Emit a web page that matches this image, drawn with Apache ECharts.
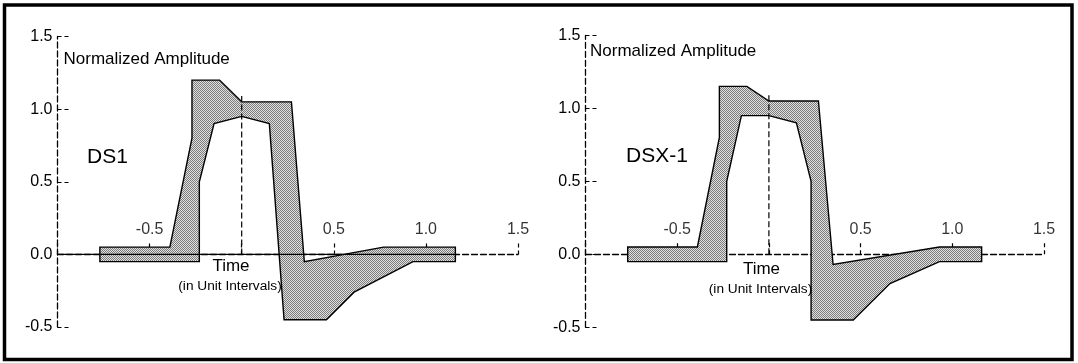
<!DOCTYPE html>
<html><head><meta charset="utf-8">
<script src="https://cdn.jsdelivr.net/npm/echarts@6/dist/echarts.min.js"></script>
<style>html,body{margin:0;padding:0;background:#fff}#c{width:1078px;height:363px}</style>
</head><body><div id="c"></div>
<script>
// ---- data ----
const xMin = -1.0, xMax = 1.5, xStep = 0.5;
const yMin = -0.5, yMax = 1.5, yStep = 0.5;
const xTickLabels = [-0.5, 0.5, 1.0, 1.5];

// DS1 pulse mask
const ds1UpperT = [-0.77, -0.39, -0.27, -0.27, -0.12, 0.00, 0.27, 0.34, 0.77, 1.16];
const ds1UpperA = [ 0.05,  0.05,  0.80,  1.20,  1.20, 1.05, 1.05, -0.05, 0.05, 0.05];
const ds1LowerT = [-0.77, -0.23, -0.23, -0.15, 0.00, 0.15, 0.23, 0.46, 0.61, 0.93, 1.16];
const ds1LowerA = [-0.05, -0.05,  0.50,  0.90, 0.95, 0.90, -0.45, -0.45, -0.26, -0.05, -0.05];

// DSX-1 pulse mask
const dsxUpperT = [-0.77, -0.39, -0.27, -0.27, -0.12, 0.00, 0.27, 0.35, 0.93, 1.16];
const dsxUpperA = [ 0.05,  0.05,  0.80,  1.15,  1.15, 1.05, 1.05, -0.07, 0.05, 0.05];
const dsxLowerT = [-0.77, -0.23, -0.23, -0.15, 0.00, 0.15, 0.23, 0.23, 0.46, 0.66, 0.93, 1.16];
const dsxLowerA = [-0.05, -0.05,  0.50,  0.95, 0.95, 0.90, 0.50, -0.45, -0.45, -0.20, -0.05, -0.05];

// centre marker (t = 0) and DS1 solid baseline
const centerLine = [[0, 0], [0, 1.09]];
const ds1Baseline = [[-1.0, 0], [1.16, 0]];

// ---- rendering ----
const FONT = '"Liberation Sans", Arial, Helvetica, sans-serif';
const pc = document.createElement('canvas'); pc.width = 2; pc.height = 2;
const g = pc.getContext('2d');
g.fillStyle = '#e0e0e0'; g.fillRect(0, 0, 2, 2);
g.fillStyle = '#7c7c7c'; g.fillRect(0, 0, 1, 1); g.fillRect(1, 1, 1, 1);
const fillPattern = { image: pc, repeat: 'repeat' };

function polygonPoints(uT, uA, lT, lA) {
  const pts = [];
  for (let i = 0; i < uT.length; i++) pts.push([uT[i], uA[i]]);
  for (let i = lT.length - 1; i >= 0; i--) pts.push([lT[i], lA[i]]);
  return pts;
}

function maskSeries(idx, pts) {
  return {
    type: 'custom', xAxisIndex: idx, yAxisIndex: idx, silent: true, clip: false, z: 2,
    data: [[0, 0]],
    renderItem: function (params, api) {
      return {
        type: 'polygon',
        shape: { points: pts.map(p => api.coord(p)) },
        style: { fill: fillPattern, stroke: '#000', lineWidth: 1.4 }
      };
    }
  };
}

function tickLabelSeries(idx) {
  return {
    type: 'scatter', xAxisIndex: idx, yAxisIndex: idx, silent: true, z: 4,
    symbolSize: 0, data: xTickLabels.map(v => [v, 0]),
    label: { show: true, position: 'top', distance: 17, color: '#000', fontSize: 16, fontFamily: FONT,
      formatter: p => p.value[0].toFixed(1) }
  };
}

function xAxis(idx) {
  return {
    type: 'value', gridIndex: idx, position: 'top', min: xMin, max: xMax, interval: xStep,
    axisLine: { onZero: true, lineStyle: { color: '#000', width: 1.3, type: [6, 3] } },
    axisTick: { inside: false, length: 12, lineStyle: { color: '#000', width: 1.2, type: [4, 3] } },
    axisLabel: { show: false },
    splitLine: { show: false }
  };
}
function yAxis(idx) {
  return {
    type: 'value', gridIndex: idx, min: yMin, max: yMax, interval: yStep,
    axisLine: { show: true, onZero: false, lineStyle: { color: '#000', width: 1.3, type: [6, 3] } },
    axisTick: { show: true, inside: true, length: 12, lineStyle: { color: '#000', width: 1.2, type: [4, 3] } },
    axisLabel: { margin: 5, color: '#000', fontSize: 16, fontFamily: FONT,
      showMinLabel: true, showMaxLabel: true, formatter: v => v.toFixed(1) },
    splitLine: { show: false }
  };
}

function txt(text, x, y, size, align) {
  return { type: 'text', x: x, y: y, z: 10, silent: true,
    style: { text: text, font: size + 'px ' + FONT, fill: '#000',
      textAlign: align || 'left', textVerticalAlign: 'middle' } };
}

const chart = echarts.init(document.getElementById('c'), null, { renderer: 'canvas' });
chart.setOption({
  animation: false,
  backgroundColor: '#fff',
  grid: [
    { left: 57.5, top: 36.5, width: 460.5, height: 290.5 },
    { left: 585.5, top: 35.3, width: 458.5, height: 292 }
  ],
  xAxis: [xAxis(0), xAxis(1)],
  yAxis: [yAxis(0), yAxis(1)],
  series: [
    maskSeries(0, polygonPoints(ds1UpperT, ds1UpperA, ds1LowerT, ds1LowerA)),
    maskSeries(1, polygonPoints(dsxUpperT, dsxUpperA, dsxLowerT, dsxLowerA)),
    { type: 'line', xAxisIndex: 0, yAxisIndex: 0, data: ds1Baseline, symbol: 'none', silent: true, z: 3,
      lineStyle: { color: '#000', width: 1.3 } },
    { type: 'line', xAxisIndex: 0, yAxisIndex: 0, data: centerLine, symbol: 'none', silent: true, z: 3,
      lineStyle: { color: '#000', width: 1.2, type: [6, 3] } },
    { type: 'line', xAxisIndex: 1, yAxisIndex: 1, data: centerLine, symbol: 'none', silent: true, z: 3,
      lineStyle: { color: '#000', width: 1.2, type: [6, 3] } },
    tickLabelSeries(0),
    tickLabelSeries(1)
  ],
  graphic: [
    { type: 'rect', z: 10, silent: true, shape: { x: 4.5, y: 5, width: 1067.5, height: 354.5 },
      style: { fill: 'none', stroke: '#000', lineWidth: 3.5 } },
    txt('Normalized Amplitude', 63.5, 59, 17),
    txt('Normalized Amplitude', 590, 51, 17),
    txt('DS1', 87, 157, 21),
    txt('DSX-1', 626, 156, 21),
    txt('Time', 231, 266, 17, 'center'),
    txt('(in Unit Intervals)', 230, 286, 13.7, 'center'),
    txt('Time', 761.5, 269.5, 17, 'center'),
    txt('(in Unit Intervals)', 760.5, 289, 13.7, 'center')
  ]
});
</script></body></html>
